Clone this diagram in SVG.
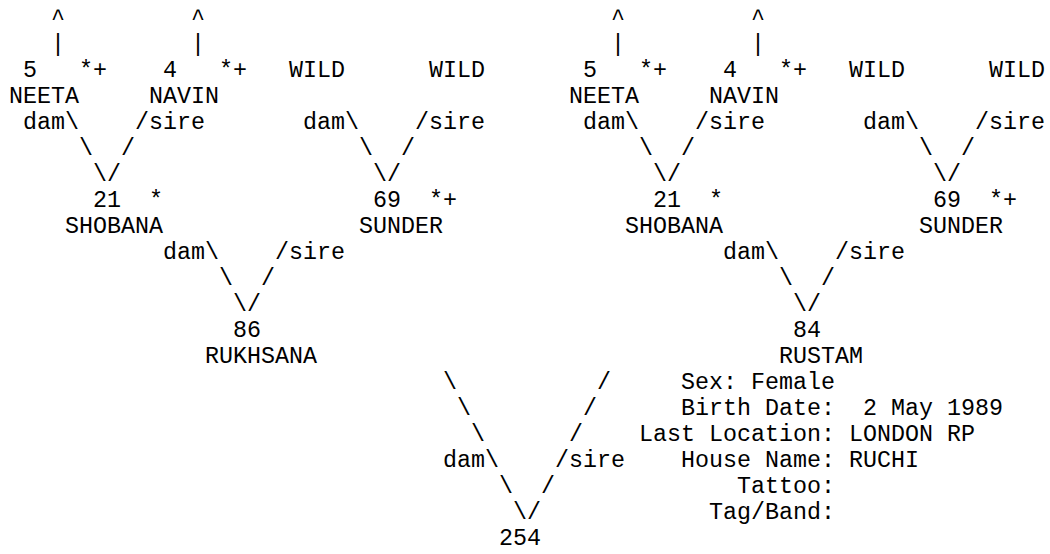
<svg xmlns="http://www.w3.org/2000/svg" width="1050" height="554" viewBox="0 0 1050 554">
<style>
text{font-family:"Liberation Mono","Courier New",monospace;font-size:23.33px;fill:#000;white-space:pre}
</style>
<rect width="1050" height="554" fill="#fff"/>
<g id="connectors">
<text x="51" y="24.5">^</text><text x="191" y="24.5">^</text><text x="611" y="24.5">^</text><text x="751" y="24.5">^</text>
<text x="51" y="50.5">|</text><text x="191" y="50.5">|</text><text x="611" y="50.5">|</text><text x="751" y="50.5">|</text>
<text x="23" y="128.5">dam\</text><text x="135" y="128.5">/sire</text><text x="303" y="128.5">dam\</text><text x="415" y="128.5">/sire</text>
<text x="583" y="128.5">dam\</text><text x="695" y="128.5">/sire</text><text x="863" y="128.5">dam\</text><text x="975" y="128.5">/sire</text>
<text x="79" y="154.5">\</text><text x="121" y="154.5">/</text><text x="359" y="154.5">\</text><text x="401" y="154.5">/</text>
<text x="639" y="154.5">\</text><text x="681" y="154.5">/</text><text x="919" y="154.5">\</text><text x="961" y="154.5">/</text>
<text x="93" y="180.5">\/</text><text x="373" y="180.5">\/</text><text x="653" y="180.5">\/</text><text x="933" y="180.5">\/</text>
<text x="163" y="258.5">dam\</text><text x="275" y="258.5">/sire</text><text x="723" y="258.5">dam\</text><text x="835" y="258.5">/sire</text>
<text x="219" y="284.5">\</text><text x="261" y="284.5">/</text><text x="779" y="284.5">\</text><text x="821" y="284.5">/</text>
<text x="233" y="310.5">\/</text><text x="793" y="310.5">\/</text>
<text x="443" y="388.5">\</text><text x="597" y="388.5">/</text>
<text x="457" y="414.5">\</text><text x="583" y="414.5">/</text>
<text x="471" y="440.5">\</text><text x="569" y="440.5">/</text>
<text x="443" y="466.5">dam\</text><text x="555" y="466.5">/sire</text>
<text x="499" y="492.5">\</text><text x="541" y="492.5">/</text>
<text x="513" y="518.5">\/</text>
</g>
<g id="node-neeta-left"><text x="23" y="76.5">5</text><text x="79" y="76.5">*+</text><text x="9" y="102.5">NEETA</text></g>
<g id="node-navin-left"><text x="163" y="76.5">4</text><text x="219" y="76.5">*+</text><text x="149" y="102.5">NAVIN</text></g>
<g id="node-wild-left-1"><text x="289" y="76.5">WILD</text></g>
<g id="node-wild-left-2"><text x="429" y="76.5">WILD</text></g>
<g id="node-shobana-left"><text x="93" y="206.5">21</text><text x="149" y="206.5">*</text><text x="65" y="232.5">SHOBANA</text></g>
<g id="node-sunder-left"><text x="373" y="206.5">69</text><text x="429" y="206.5">*+</text><text x="359" y="232.5">SUNDER</text></g>
<g id="node-rukhsana"><text x="233" y="336.5">86</text><text x="205" y="362.5">RUKHSANA</text></g>
<g id="node-neeta-right"><text x="583" y="76.5">5</text><text x="639" y="76.5">*+</text><text x="569" y="102.5">NEETA</text></g>
<g id="node-navin-right"><text x="723" y="76.5">4</text><text x="779" y="76.5">*+</text><text x="709" y="102.5">NAVIN</text></g>
<g id="node-wild-right-1"><text x="849" y="76.5">WILD</text></g>
<g id="node-wild-right-2"><text x="989" y="76.5">WILD</text></g>
<g id="node-shobana-right"><text x="653" y="206.5">21</text><text x="709" y="206.5">*</text><text x="625" y="232.5">SHOBANA</text></g>
<g id="node-sunder-right"><text x="933" y="206.5">69</text><text x="989" y="206.5">*+</text><text x="919" y="232.5">SUNDER</text></g>
<g id="node-rustam"><text x="793" y="336.5">84</text><text x="779" y="362.5">RUSTAM</text></g>
<g id="node-254">
<text x="681" y="388.5">Sex: Female</text>
<text x="681" y="414.5">Birth Date:  2 May 1989</text>
<text x="639" y="440.5">Last Location: LONDON RP</text>
<text x="681" y="466.5">House Name: RUCHI</text>
<text x="737" y="492.5">Tattoo:</text>
<text x="709" y="518.5">Tag/Band:</text>
<text x="499" y="544.5">254</text>
</g>
</svg>
